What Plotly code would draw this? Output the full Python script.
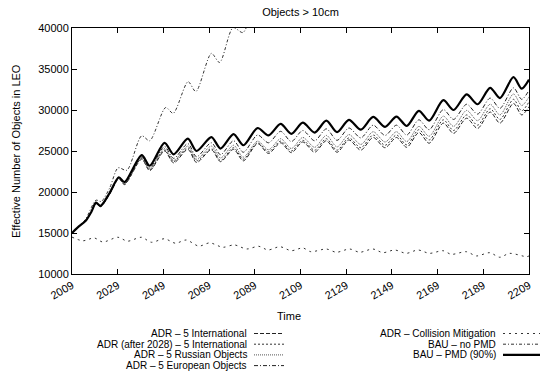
import plotly.graph_objects as go

# ---------------- data ----------------
years = [2009, 2012, 2015, 2017.5, 2019.5, 2021.5, 2025.5, 2029.5, 2032, 2039.5, 2043, 2049.5,
         2053.5, 2059.7, 2063.5, 2070, 2074, 2079.7, 2084, 2090.2, 2095, 2100.3, 2105, 2110,
         2115.2, 2120.3, 2125, 2130.2, 2135.4, 2140.8, 2146, 2151, 2155.5, 2160.8, 2165.3,
         2171.5, 2176, 2181.7, 2186.5, 2192, 2196.3, 2202.2, 2205.8, 2209]

bau_pmd = [15000, 15800, 16500, 17600, 18700, 18300, 19900, 21800, 21200, 24500, 23200, 26000,
           24600, 26500, 25000, 26700, 25300, 27050, 25700, 27800, 26900, 28300, 27100, 28450,
           27250, 28700, 27300, 28800, 27600, 29150, 27950, 29200, 28050, 29900, 28700,
           31200, 30000, 31900, 30700, 32700, 31450, 34000, 32600, 33700]

adr_european = [15000, 15800, 16500, 17600, 18650, 18270, 19850, 21750, 21100, 24300, 22950, 25550,
                24100, 25900, 24300, 26000, 24550, 26250, 24850, 26950, 26000, 27400, 26150, 27500,
                26250, 27700, 26300, 27800, 26600, 28150, 26900, 28150, 26950, 28800, 27600,
                30050, 28850, 30700, 29500, 31450, 30200, 32700, 31300, 32400]

adr_russian = [15000, 15800, 16500, 17600, 18650, 18250, 19800, 21700, 21000, 24200, 22800, 25300,
               23850, 25600, 24000, 25600, 24150, 25700, 24250, 26200, 25150, 26500, 25300, 26650,
               25450, 26900, 25500, 27000, 25800, 27350, 26100, 27350, 26150, 28000, 26800,
               29250, 28000, 29950, 28700, 30700, 29400, 31950, 30550, 31600]

adr_after2028 = [15000, 15800, 16500, 17600, 18600, 18250, 19800, 21650, 20950, 24100, 22700, 25100,
                 23700, 25400, 23800, 25300, 23850, 25400, 24000, 26000, 24900, 26200, 25000, 26300,
                 25100, 26500, 25100, 26600, 25400, 26950, 25700, 26950, 25750, 27600, 26350,
                 28800, 27500, 29400, 28150, 30150, 28850, 31300, 29900, 31000]

adr_international = [15000, 15800, 16500, 17600, 18600, 18200, 19750, 21600, 20900, 24000, 22600, 25000,
                     23550, 25200, 23600, 25150, 23700, 25200, 23800, 25900, 24700, 26000, 24800, 26100,
                     24850, 26250, 24850, 26350, 25100, 26650, 25400, 26650, 25450, 27250, 25950,
                     28400, 27150, 29000, 27750, 29750, 28400, 30800, 29400, 30400]

nopmd_years = [2009, 2012, 2015, 2019.5, 2021.8, 2025.5, 2029.2, 2033, 2039.5, 2043, 2050, 2053.3,
               2059.8, 2063.2, 2070, 2073.6, 2079.5, 2083.8, 2090, 2095, 2100]
bau_no_pmd = [15000, 15750, 16700, 19000, 18850, 20500, 22950, 22650, 26850, 26250, 30300, 29600,
              33450, 32250, 36900, 35800, 40050, 39450, 43500, 44500, 47500]

cm_years = [2009, 2013.8, 2018.7, 2022.5, 2029.1, 2033.3, 2039.4, 2043.7, 2049.5, 2054.3, 2059,
            2064.5, 2069.3, 2075, 2080, 2085.5, 2090.7, 2094.8, 2100, 2105, 2110, 2113.5, 2120.3,
            2124.7, 2130.5, 2134.9, 2140.7, 2145.1, 2150.2, 2155.3, 2160.4, 2165.5, 2171.4, 2175,
            2181.6, 2186, 2191.8, 2196.2, 2200.5, 2207.9, 2209]
adr_collision = [14500, 14050, 14400, 13900, 14480, 14000, 14480, 13870, 14300, 13750, 14150,
                 13400, 13800, 13260, 13550, 13050, 13380, 12930, 13330, 12840, 13180, 12720, 13050,
                 12650, 13050, 12650, 13050, 12600, 12930, 12520, 12930, 12520, 12840, 12400,
                 12720, 12200, 12600, 12040, 12520, 12110, 12200]

x_ticks = [2009, 2029, 2049, 2069, 2089, 2109, 2129, 2149, 2169, 2189, 2209]
y_ticks = [10000, 15000, 20000, 25000, 30000, 35000, 40000]

# name, x, y, dash, width, colour, legend column, legend row
series = [
    ("ADR – 5 International", years, adr_international, "4px,2px", 1, "#222222", 0, 0),
    ("ADR (after 2028) – 5 International", years, adr_after2028, "2px,2px", 1, "#333333", 0, 1),
    ("ADR – 5 Russian Objects", years, adr_russian, "1px,1px", 1, "#555555", 0, 2),
    ("ADR – 5 European Objects", years, adr_european, "4px,2px,1px,2px", 1, "#222222", 0, 3),
    ("ADR – Collision Mitigation", cm_years, adr_collision, "2px,4px", 1, "#333333", 1, 0),
    ("BAU – no PMD", nopmd_years, bau_no_pmd, "3px,2px,1px,2px", 1, "#333333", 1, 1),
    ("BAU – PMD (90%)", years, bau_pmd, "solid", 2.2, "#000000", 1, 2),
]

W, H = 544, 375
L, R, T, B = 72, 15, 28, 101
FONT = "Liberation Sans, Arial, sans-serif"

fig = go.Figure()
for name, xs, ys, dash, w, col, _, _ in series:
    fig.add_trace(go.Scatter(x=xs, y=ys, mode="lines", name=name, showlegend=False,
                             line=dict(color=col, width=w, dash=dash, shape="spline", smoothing=0.8)))

pw, ph = W - L - R, H - T - B
def px2paper(px, py):
    return (px - L) / pw, (H - B - py) / ph

# hand-built gnuplot style legend (text right-aligned, sample to the right)
col_text_right = [248, 497]
col_sample = [(254, 284), (503, 540)]
row_y = [333.5, 344.2, 354.9, 365.6]
annotations = []
shapes = []
for name, xs, ys, dash, w, col, c, r in series:
    tx, ty = px2paper(col_text_right[c], row_y[r])
    annotations.append(dict(x=tx, y=ty, xref="paper", yref="paper", text=name, showarrow=False,
                            xanchor="right", yanchor="middle", borderpad=0,
                            font=dict(size=10, family=FONT, color="black")))
    x0, y0 = px2paper(col_sample[c][0], row_y[r])
    x1, _ = px2paper(col_sample[c][1], row_y[r])
    shapes.append(dict(type="line", xref="paper", yref="paper", x0=x0, x1=x1, y0=y0, y1=y0,
                       line=dict(color=col, width=w, dash=dash)))

tx, ty = px2paper(289, 316)
annotations.append(dict(x=tx, y=ty, xref="paper", yref="paper", text="Time", showarrow=False,
                        xanchor="center", yanchor="middle", font=dict(size=11, family=FONT, color="black")))
tx, ty = px2paper(16, 151)
annotations.append(dict(x=tx, y=ty, xref="paper", yref="paper", text="Effective Number of Objects in LEO",
                        showarrow=False, textangle=-90, xanchor="center", yanchor="middle",
                        font=dict(size=11, family=FONT, color="black")))

fig.update_layout(
    width=W, height=H,
    margin=dict(l=L, r=R, t=T, b=B, autoexpand=False),
    paper_bgcolor="white", plot_bgcolor="white",
    font=dict(family=FONT, size=11, color="black"),
    title=dict(text="Objects > 10cm", x=(L + pw / 2) / W, xanchor="center", y=1 - 12 / H, yanchor="middle",
               font=dict(size=11, family=FONT, color="black")),
    annotations=annotations,
    shapes=shapes,
)
fig.update_xaxes(range=[2009, 2209], tickvals=x_ticks, ticktext=[str(v) for v in x_ticks],
                 tickangle=-30, ticks="inside", ticklen=5, tickcolor="black",
                 showline=True, linecolor="black", linewidth=1, mirror="ticks", automargin=False,
                 showgrid=False, zeroline=False, tickfont=dict(size=11, family=FONT))
fig.update_yaxes(range=[10000, 40000], tickvals=y_ticks, ticktext=[str(v) for v in y_ticks],
                 ticks="inside", ticklen=5, tickcolor="black",
                 showline=True, linecolor="black", linewidth=1, mirror="ticks", automargin=False,
                 showgrid=False, zeroline=False, tickfont=dict(size=11, family=FONT))

fig.write_html("out.html", config={"displayModeBar": False},
               post_script="document.body.style.margin='0';document.body.style.padding='0';")
